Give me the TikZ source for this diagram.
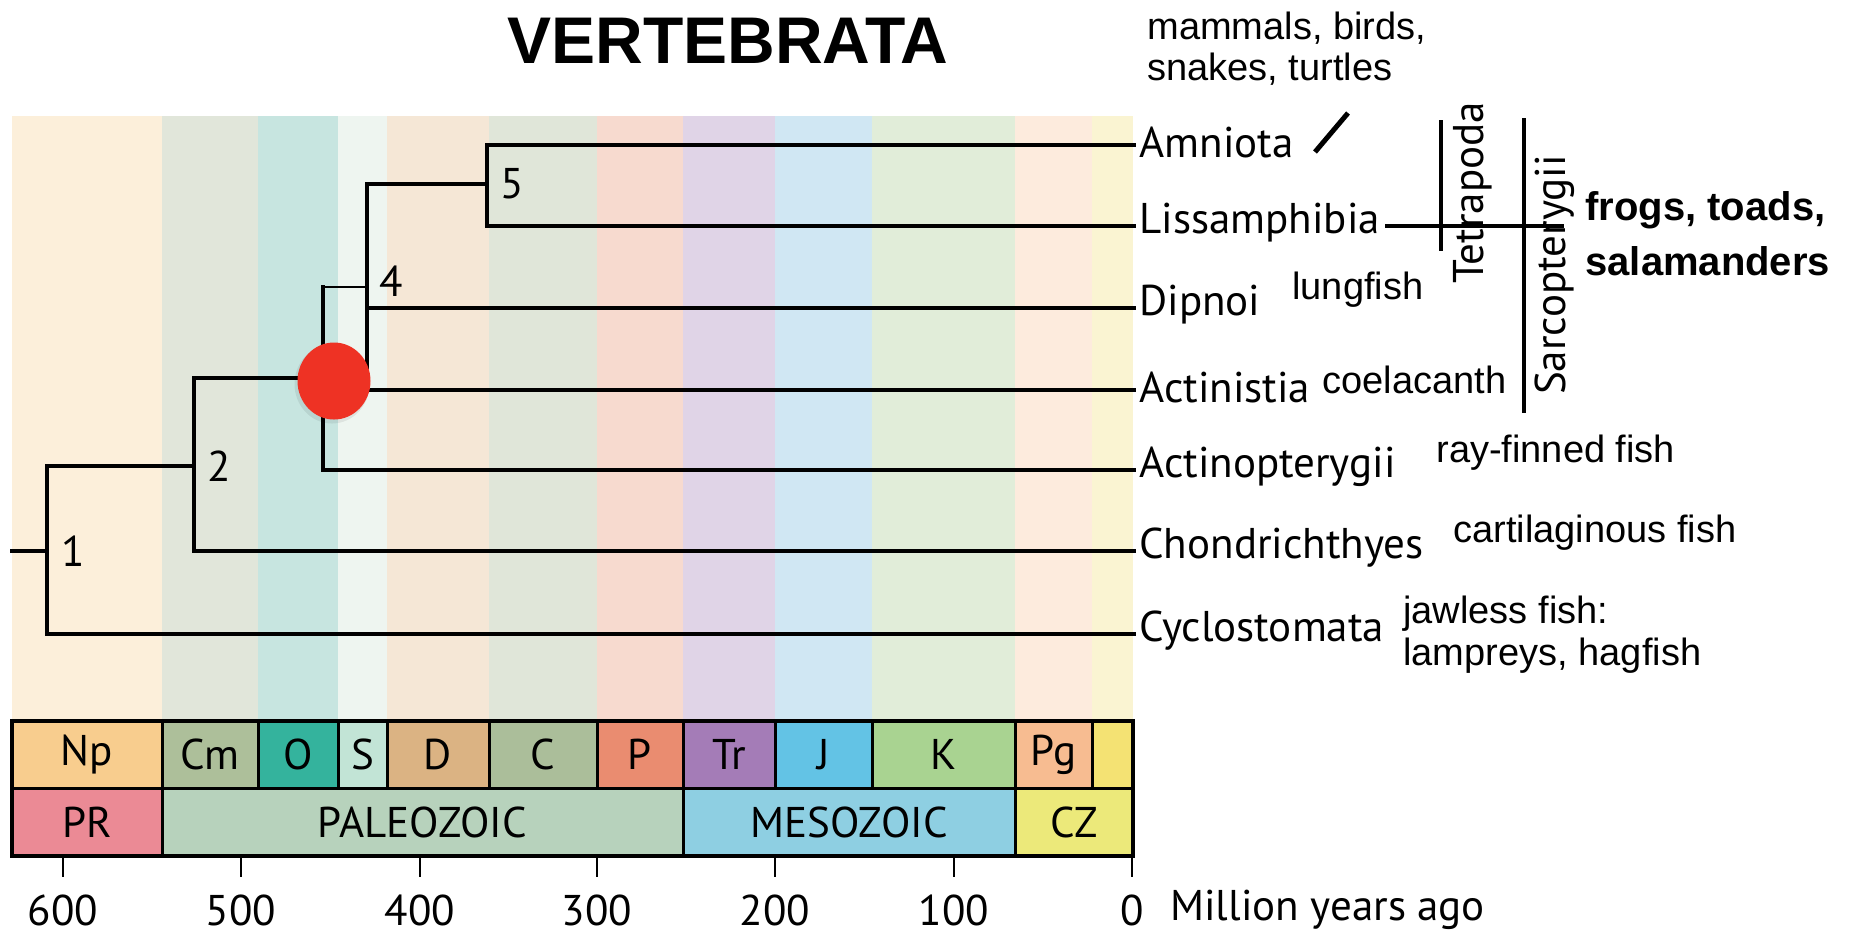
\documentclass[tikz,border=0pt]{standalone}
\usepackage{fontspec}
\usetikzlibrary{shapes.geometric}
\setmainfont{PT Sans}
\newfontfamily\arial{Liberation Sans}
\definecolor{bNp}{HTML}{FCEFDA}
\definecolor{bCm}{HTML}{E1E6DA}
\definecolor{bO}{HTML}{C7E5E0}
\definecolor{bS}{HTML}{EEF5F0}
\definecolor{bD}{HTML}{F5E7D6}
\definecolor{bC}{HTML}{E0E6D9}
\definecolor{bP}{HTML}{F7DACF}
\definecolor{bTr}{HTML}{E0D4E7}
\definecolor{bJ}{HTML}{D0E7F3}
\definecolor{bK}{HTML}{E1EDD9}
\definecolor{bPg}{HTML}{FDEBDD}
\definecolor{bNg}{HTML}{FAF4D2}
\definecolor{cNp}{HTML}{F8CD8E}
\definecolor{cCm}{HTML}{ADBF9A}
\definecolor{cO}{HTML}{34B39D}
\definecolor{cS}{HTML}{C2E4D6}
\definecolor{cD}{HTML}{DBB383}
\definecolor{cC}{HTML}{ABBE9A}
\definecolor{cP}{HTML}{EA8C70}
\definecolor{cTr}{HTML}{A47CB7}
\definecolor{cJ}{HTML}{63C3E5}
\definecolor{cK}{HTML}{A9D391}
\definecolor{cPg}{HTML}{F7BC91}
\definecolor{cNg}{HTML}{F4E273}
\definecolor{cPR}{HTML}{EB8A95}
\definecolor{cPZ}{HTML}{B7D2BC}
\definecolor{cMZ}{HTML}{8ECFE2}
\definecolor{cCZ}{HTML}{ECE97A}
\definecolor{dotred}{HTML}{EE3224}
\tikzset{
  br/.style={line width=2.2pt, line cap=rect, line join=miter},
  thinbr/.style={line width=1pt},
  taxon/.style={anchor=west, inner xsep=2.5pt, inner ysep=0pt, yshift=1.5pt, font=\fontsize{21.5}{24}\selectfont},
  common/.style={anchor=west, inner sep=0pt, font=\arial\fontsize{19}{22}\selectfont},
  numlab/.style={inner sep=0pt, font=\fontsize{21.5}{24}\selectfont},
  cell/.style={draw=black, line width=1.5pt, inner sep=0pt, font=\fontsize{21.5}{24}\selectfont},
  tick/.style={line width=1pt},
  clade/.style={line width=1.6pt},
}
\begin{document}
\begin{tikzpicture}[x=0.5pt, y=-0.5pt]
\useasboundingbox (0,0) rectangle (1858,934);
% background bands
\foreach \a/\b/\c in {12/162/bNp,162/258/bCm,258/338/bO,338/387/bS,387/489/bD,489/597/bC,597/683/bP,683/775/bTr,775/872/bJ,872/1015/bK,1015/1092/bPg,1092/1133/bNg}
  \fill[\c] (\a,116) rectangle (\b,719);
% title
\node[inner sep=0pt, font=\arial\bfseries\fontsize{33}{36}\selectfont] (title) at (728,41) {VERTEBRATA};
% tips
\coordinate (eAmn) at (1134,145);
\coordinate (eLis) at (1134,226);
\coordinate (eDip) at (1134,308);
\coordinate (eAcs) at (1134,390);
\coordinate (eAcp) at (1134,470);
\coordinate (eCho) at (1134,551);
\coordinate (eCyc) at (1134,634);
% internal points
\coordinate (root) at (12,551);
\coordinate (n1) at (47,551);
\coordinate (n1t) at (47,466);
\coordinate (n1b) at (47,634);
\coordinate (n2) at (194,466);
\coordinate (n2t) at (194,378);
\coordinate (n2b) at (194,551);
\coordinate (n3t) at (323,287);
\coordinate (n3b) at (323,470);
\coordinate (n4) at (367,287);
\coordinate (n4t) at (367,184);
\coordinate (n4b) at (367,378);
\coordinate (n4d) at (367,308);
\coordinate (n5) at (487,184);
\coordinate (n5t) at (487,145);
\coordinate (n5b) at (487,226);
\coordinate (c3) at (334,381);
\coordinate (c3r) at (334,390);
% branches
\draw[br] (root) -- (n1);
\draw[br] (eCyc) -- (n1b) -- (n1t) -- (n2);
\draw[br] (eCho) -- (n2b) -- (n2t) -- (c3 |- n2t);
\draw[br] (eAcp) -- (n3b) -- (n3t);
\draw[thinbr] (n3t) -- (n4);
\draw[br] (n4b) -- (n4t) -- (n5);
\draw[br] (n4d) -- (eDip);
\draw[br] (c3r) -- (eAcs);
\draw[br] (eAmn) -- (n5t) -- (n5b) -- (eLis);
% red dot
\fill[black, opacity=0.07] (332,384) ellipse [x radius=37.5, y radius=39.5];
\node[ellipse, fill=dotred, minimum width=36.5pt, minimum height=38.5pt, inner sep=0pt] (dot) at (c3) {};
% node numbers
\node[numlab] (L1) at (73,551) {1};
\node[numlab] (L2) at (219,466) {2};
\node[numlab] (L4) at (391,281) {4};
\node[numlab] (L5) at (512,184) {5};
% taxon labels
\node[taxon] (Amn) at (eAmn) {Amniota};
\node[taxon] (Lis) at (eLis) {Lissamphibia};
\node[taxon] (Dip) at (eDip) {Dipnoi};
\node[taxon] (Acs) at (eAcs) {Actinistia};
\node[taxon] (Acp) at (eAcp) {Actinopterygii};
\node[taxon] (Cho) at (eCho) {Chondrichthyes};
\node[taxon] (Cyc) at (eCyc) {Cyclostomata};
% common names
\node[common] (mam1) at (1147,28) {mammals, birds,};
\node[common] (mam2) at (1147,69) {snakes, turtles};
\coordinate (sl1) at (1315,152);
\coordinate (sl2) at (1348,113);
\draw[line width=2.5pt] (sl1) -- (sl2);
\node[common] (lung) at (1292,290) {lungfish};
\node[common] (coel) at (1322,380) {coelacanth};
\node[common] (ray) at (1436,453) {ray-finned fish};
\node[common] (cart) at (1453,533) {cartilaginous fish};
\node[common] (jaw1) at (1403,614) {jawless fish:};
\node[common] (jaw2) at (1403,656) {lampreys, hagfish};
\node[common, font=\arial\bfseries\fontsize{20}{22}\selectfont] (frog1) at (1585,210) {frogs, toads,};
\node[common, font=\arial\bfseries\fontsize{20}{22}\selectfont] (frog2) at (1585,261) {salamanders};
% clade bars
\coordinate (tet1) at (1441,120);
\coordinate (tet2) at (1441,251);
\coordinate (sar1) at (1524,118);
\coordinate (sar2) at (1524,413);
\draw[clade] (tet1) -- (tet2);
\draw[clade] (sar1) -- (sar2);
\node[rotate=90, inner sep=0pt, font=\fontsize{21.5}{24}\selectfont] (tetl) at (1473,193) {Tetrapoda};
\node[rotate=90, inner sep=0pt, font=\fontsize{21.5}{24}\selectfont] (sarl) at (1555,275) {Sarcopterygii};
\coordinate (lisend) at (1564,226);
\draw[br, line cap=butt] (Lis.east |- eLis) -- (lisend);
% time scale: periods
\foreach \a/\b/\c/\t in {12/162/cNp/Np,162/258/cCm/Cm,258/338/cO/O,338/387/cS/S,387/489/cD/D,489/597/cC/C,597/683/cP/P,683/775/cTr/Tr,775/872/cJ/J,872/1015/cK/K,1015/1092/cPg/Pg,1092/1133/cNg/{}}
  \draw[cell, fill=\c] (\a,721) rectangle (\b,788) node[midway] {\t};
\foreach \a/\b/\c/\t in {12/162/cPR/PR,162/683/cPZ/PALEOZOIC,683/1015/cMZ/MESOZOIC,1015/1133/cCZ/CZ}
  \draw[cell, fill=\c] (\a,788) rectangle (\b,856) node[midway] {\t};
\draw[line width=2.2pt] (12,721) rectangle (1133,856);
% ticks
\foreach \x/\t in {63/600,241/500,420/400,597/300,775/200,954/100,1132/0}{
  \draw[tick] (\x,856) -- (\x,877);
  \node[numlab] at (\x,910) {\t};
}
\node[anchor=west, inner sep=0pt, font=\fontsize{21.5}{24}\selectfont] (mya) at (1170,910) {Million years ago};
\end{tikzpicture}
\end{document}
